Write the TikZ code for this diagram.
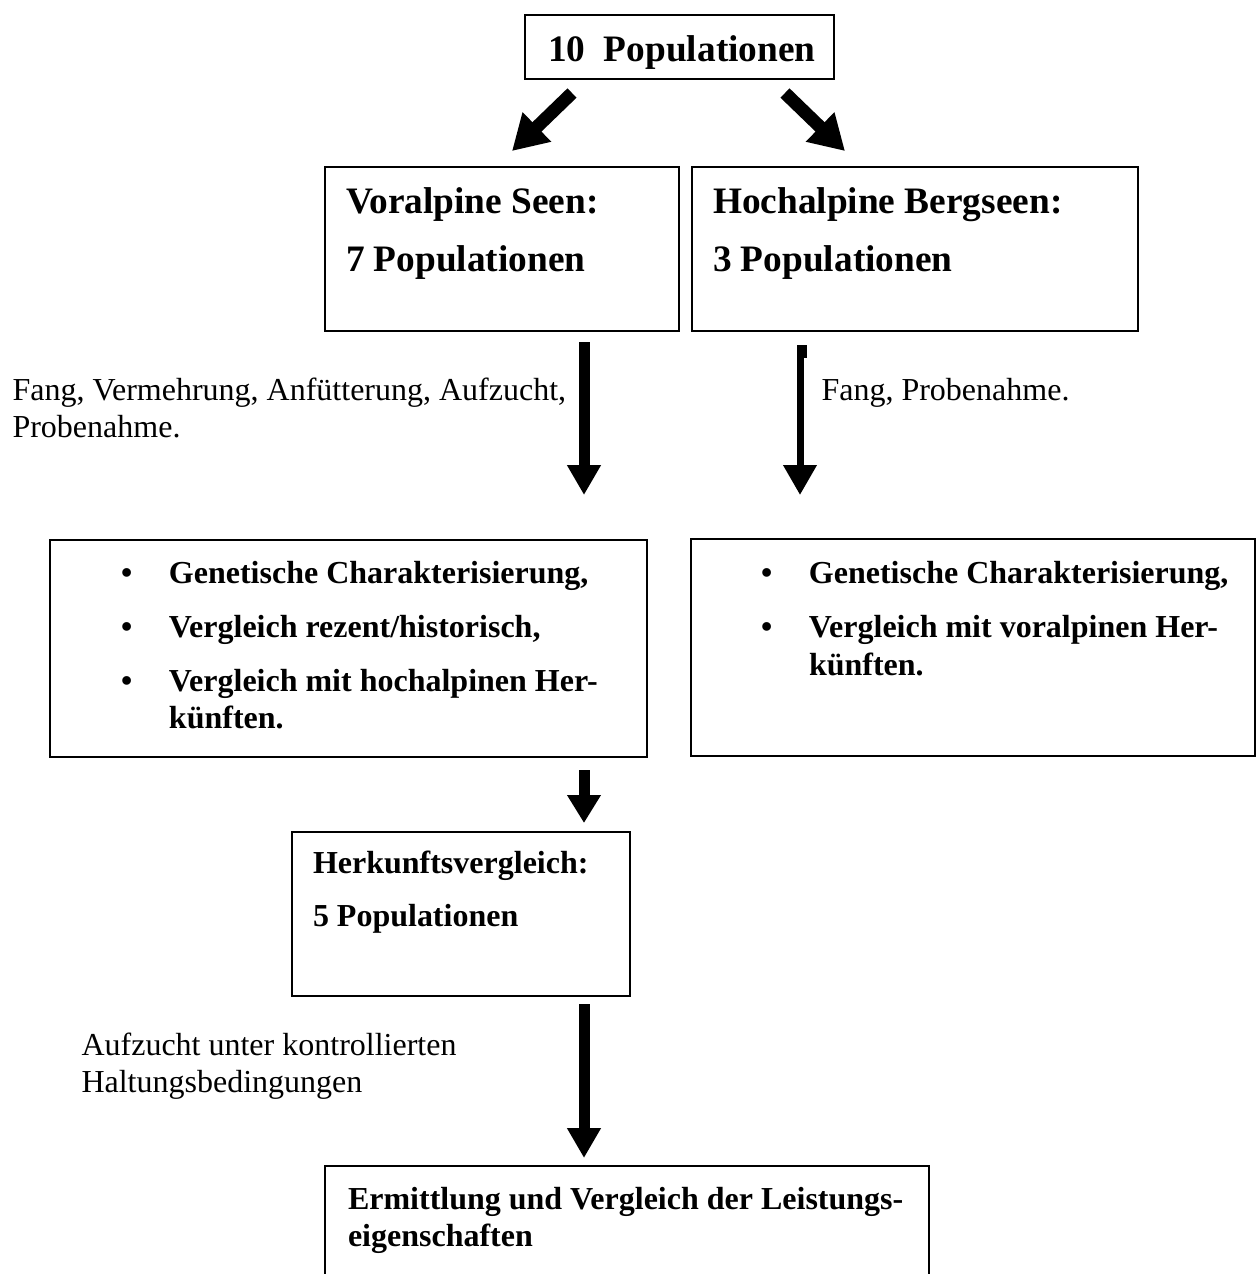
\documentclass[tikz,border=0pt]{standalone}
\usepackage{fontspec}
\setmainfont{Liberation Serif}
\usetikzlibrary{arrows.meta}
\newlength\pxu
\setlength\pxu{0.375pt}
\tikzset{
  box/.style={draw, line width=0.75pt, inner sep=0pt, anchor=north west},
  lbl/.style={inner sep=0pt, anchor=base west},
  bigarrow/.style={line width=4.125pt, -{Triangle[width=12pt,length=11.25pt]}},
  smallarrow/.style={line width=4.125pt, -{Triangle[width=12pt,length=10.5pt]}},
  diagarrow/.style={line width=4.875pt, -{Triangle[width=14.5pt,length=13pt]}},
  thinarrow/.style={line width=2.625pt, -{Triangle[width=12pt,length=11.25pt]}},
}
\newcommand\boxtxt[3]{\parbox[c][#2\pxu][t]{#1\pxu}{#3}}
\newcommand\bul[1]{\hspace*{#1\pxu}\makebox[48\pxu][l]{•}}
\begin{document}
\begin{tikzpicture}[x=0.375pt,y=-0.375pt]
\useasboundingbox (0,0) rectangle (1256,1274);

% boxes
\node[box] (top) at (524,14) {\boxtxt{309}{64}{\fontsize{14}{16}\selectfont\bfseries
  \hspace*{23\pxu}\rule{0pt}{46\pxu}10\ \ Populationen}};

\node[box] (voralp) at (324,166) {\boxtxt{354}{164}{\fontsize{14}{21.75}\selectfont\bfseries
  \hspace*{21\pxu}\rule{0pt}{46\pxu}Voralpine Seen:\\
  \hspace*{21\pxu}7 Populationen}};

\node[box] (hochalp) at (691,166) {\boxtxt{446}{164}{\fontsize{14}{21.75}\selectfont\bfseries
  \hspace*{21\pxu}\rule{0pt}{46\pxu}Hochalpine Bergseen:\\
  \hspace*{21\pxu}3 Populationen}};

\node[box] (bulL) at (49,539) {\boxtxt{597}{217}{\fontsize{12}{14.06}\selectfont\bfseries
  \bul{71}\rule{0pt}{43\pxu}Genetische Charakterisierung,\\[17\pxu]
  \bul{71}Vergleich rezent/historisch,\\[16.5\pxu]
  \bul{71}Vergleich mit hochalpinen Her-\\
  \hspace*{119\pxu}künften.}};

\node[box] (bulR) at (690,538) {\boxtxt{564}{217}{\fontsize{12}{14.06}\selectfont\bfseries
  \bul{70}\rule{0pt}{44\pxu}Genetische Charakterisierung,\\[17\pxu]
  \bul{70}Vergleich mit voralpinen Her-\\
  \hspace*{118\pxu}künften.}};

\node[box] (herk) at (291,831) {\boxtxt{338}{164}{\fontsize{12}{19.875}\selectfont\bfseries
  \hspace*{21\pxu}\rule{0pt}{41\pxu}Herkunftsvergleich:\\
  \hspace*{21\pxu}5 Populationen}};

\node[box] (ermitt) at (324,1165) {\boxtxt{604}{160}{\fontsize{12}{13.875}\selectfont\bfseries
  \hspace*{23\pxu}\rule{0pt}{43\pxu}Ermittlung und Vergleich der Leistungs-\\
  \hspace*{23\pxu}eigenschaften}};

% side labels
\node[lbl] (lab1) at (12,400) {\fontsize{12}{13.875}\selectfont\parbox[t]{600\pxu}{Fang, Vermehrung, Anfütterung, Aufzucht,\\Probenahme.}};
\node[lbl] (lab2) at (821,400) {\fontsize{12}{13.875}\selectfont Fang, Probenahme.};
\node[lbl] (lab3) at (81,1055) {\fontsize{12}{13.875}\selectfont\parbox[t]{500\pxu}{Aufzucht unter kontrollierten\\Haltungsbedingungen}};

% arrow columns
\coordinate (xl) at (584,0);
\coordinate (xr) at (800,0);
\coordinate (d1a) at (572,93);
\coordinate (d1b) at (512,151);
\coordinate (d2a) at (785,93);
\coordinate (d2b) at (845,151);

\draw[diagarrow] (d1a) -- (d1b);
\draw[diagarrow] (d2a) -- (d2b);

\draw[bigarrow, shorten <=3.75pt, shorten >=16.5pt] (voralp.south -| xl) -- (bulL.north -| xl);
\draw[thinarrow, shorten <=5.625pt, shorten >=16.125pt] (hochalp.south -| xr) -- (bulR.north -| xr);
\fill (796.5,345) rectangle (806.5,358);

\draw[smallarrow, shorten <=4.5pt, shorten >=3pt] (bulL.south -| xl) -- (herk.north -| xl);
\draw[bigarrow, shorten <=2.625pt, shorten >=2.625pt] (herk.south -| xl) -- (ermitt.north -| xl);
\end{tikzpicture}
\end{document}
